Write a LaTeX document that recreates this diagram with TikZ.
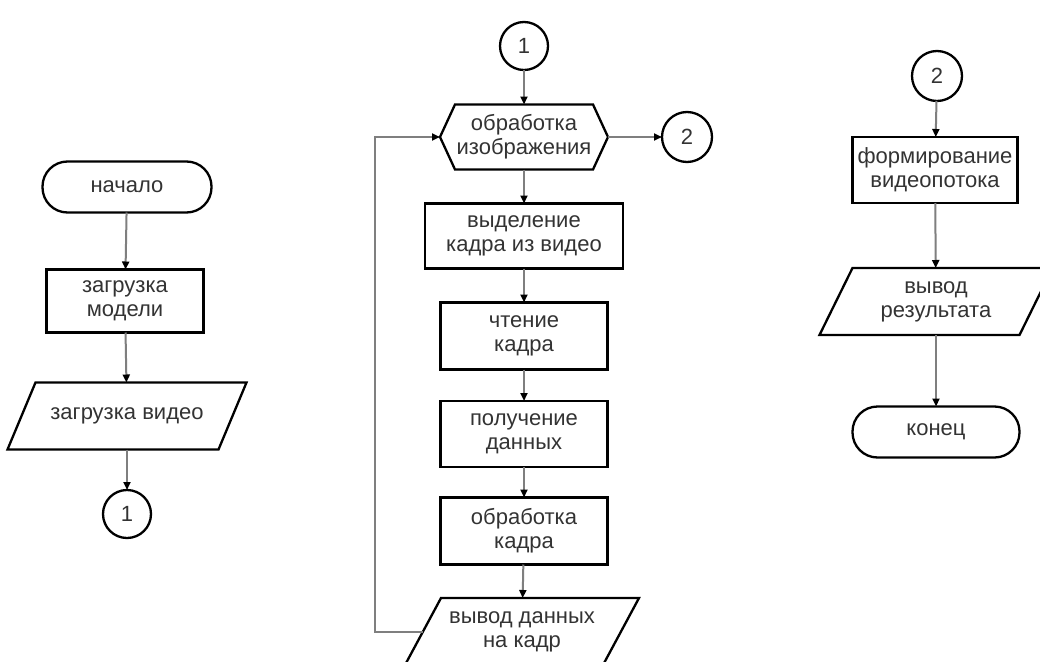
\documentclass[tikz,border=0pt]{standalone}
\usepackage{fontspec}
\setmainfont{Liberation Sans}
\usetikzlibrary{arrows.meta}
\definecolor{txt}{HTML}{333333}
\definecolor{linegray}{HTML}{7F7F7F}
\newcommand\pgramdraw[2]{\draw[shp] ([xshift=#2]#1.north west) -- ([xshift=#2]#1.north east) -- ([xshift=-#2]#1.south east) -- ([xshift=-#2]#1.south west) -- cycle;}
\newcommand\hexdraw[2]{\draw[shp] (#1.west) -- ([xshift=#2]#1.north west) -- ([xshift=-#2]#1.north east) -- (#1.east) -- ([xshift=-#2]#1.south east) -- ([xshift=#2]#1.south west) -- cycle;}
\begin{document}
\begin{tikzpicture}[x=1pt,y=-1pt,
  every node/.style={font=\fontsize{22}{24}\selectfont, text=txt, align=center, inner sep=0pt, outer sep=0pt},
  shp/.style={draw=black, line width=2.3pt, line join=miter},
  blk/.style={shp, rectangle, minimum width=#1},
  term/.style={shp, rectangle, rounded corners=25pt, minimum width=#1, minimum height=51pt},
  conn/.style={shp, circle, minimum size=48pt},
  plain/.style={rectangle, minimum width=#1, minimum height=67pt},
  arr/.style={draw=linegray, line width=2pt, -{Triangle[length=8pt,width=7pt,color=black]}}
]
\useasboundingbox (0,0) rectangle (1040,661);
\clip (0,0) rectangle (1040,661);
\fill[white] (0,0) rectangle (1040,661);

% left column
\node[term=169pt] (start) at (127,187) {начало};
\node[blk=157pt, minimum height=63pt] (model) at (125,301) {загрузка\\модели};
\node[plain=211pt] (video) at (127,416) {загрузка видео};
\pgramdraw{video}{14pt}
\node[conn] (c1a) at (127,514) {1};

% middle column
\node[conn] (c1b) at (524,46) {1};
\node[plain=168pt, minimum height=65pt] (hex) at (524,137) {обработка\\изображения};
\hexdraw{hex}{15pt}
\node[conn, minimum size=50pt] (c2a) at (687,137) {2};
\node[blk=198pt, minimum height=65pt] (sel) at (524,236) {выделение\\кадра из видео};
\node[blk=167pt, minimum height=67pt] (read) at (524,336) {чтение\\кадра};
\node[blk=167pt, minimum height=66pt] (get) at (524,434) {получение\\данных};
\node[blk=167pt, minimum height=67pt] (proc) at (524,531) {обработка\\кадра};
\node[plain=198pt] (outp) at (522,631.5) {вывод данных\\на кадр};
\pgramdraw{outp}{18pt}
\coordinate (lp) at (375,631.5);

% right column
\node[conn, minimum size=50pt] (c2b) at (937,76) {2};
\node[blk=165pt, minimum height=66pt] (form) at (935,170) {формирование\\видеопотока};
\node[plain=200pt] (res) at (936,301.5) {вывод\\результата};
\pgramdraw{res}{16.5pt}
\node[term=167pt] (end) at (936,432) {конец};

% connectors
\draw[arr] (start) -- (model);
\draw[arr] (model) -- (video);
\draw[arr] (video) -- (c1a);
\draw[arr] (c1b) -- (hex);
\draw[arr] (hex) -- (c2a);
\draw[arr] (hex) -- (sel);
\draw[arr] (sel) -- (read);
\draw[arr] (read) -- (get);
\draw[arr] (get) -- (proc);
\draw[arr] (proc) -- (outp);
\draw[arr] (outp.west) -- (lp) |- (hex.west);
\draw[arr] (c2b) -- (form);
\draw[arr] (form) -- (res);
\draw[arr] (res) -- (end);
\end{tikzpicture}
\end{document}
